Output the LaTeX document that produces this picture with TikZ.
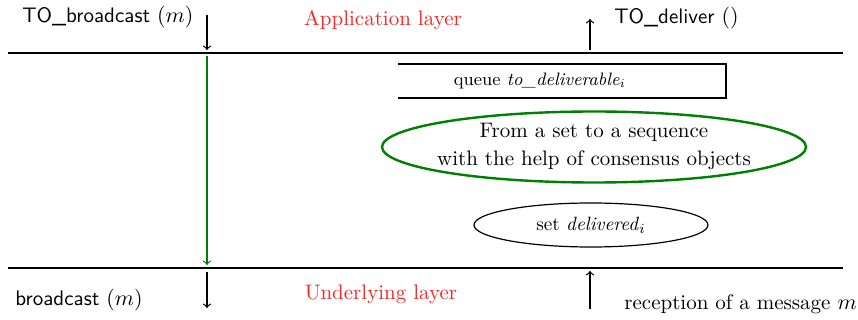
\documentclass[tikz,border=0pt]{standalone}
\usetikzlibrary{shapes.geometric}
\definecolor{lgreen}{RGB}{0,128,0}
\definecolor{lred}{RGB}{240,40,40}
\begin{document}
\begin{tikzpicture}[x=0.5pt,y=-0.5pt,
  font=\fontsize{10.5}{14}\selectfont,
  layer/.style={line width=1pt},
  arr/.style={->,semithick},
  sanslabel/.style={font=\fontsize{10.5}{14}\selectfont\sffamily,inner sep=0pt},
  layerlabel/.style={text=lred,inner sep=0pt},
  bigell/.style={ellipse,draw=lgreen,line width=1.2pt,minimum width=212pt,minimum height=35.5pt,inner xsep=-4.5pt,inner ysep=0pt,align=center},
  smallell/.style={ellipse,draw,semithick,minimum width=117pt,minimum height=22pt,inner sep=0pt,font=\fontsize{9.6}{12}\selectfont}]
\useasboundingbox (0,0) rectangle (858,320);
% layer lines
\coordinate (tl) at (8,53); \coordinate (tr) at (843,53);
\coordinate (bl) at (8,268); \coordinate (br) at (843,268);
\draw[layer] (tl) -- (tr);
\draw[layer] (bl) -- (br);
% labels
\node[sanslabel,anchor=west] (tob) at (22,17) {TO\_broadcast $(m)$};
\node[layerlabel] (app) at (383,20) {Application layer};
\node[sanslabel,anchor=west] (tod) at (614,18) {TO\_deliver $()$};
\node[sanslabel,anchor=west] (bc) at (15,300) {broadcast $(m)$};
\node[layerlabel] (und) at (381,294) {Underlying layer};
\node[inner sep=0pt,anchor=west] (rec) at (624,304) {reception of a message $m$};
% vertical arrows left
\coordinate (a1) at (207,15); \coordinate (a2) at (207,50);
\coordinate (g1) at (207,56); \coordinate (g2) at (207,265);
\coordinate (b1) at (207,272); \coordinate (b2) at (207,308);
\draw[arr] (a1) -- (a2);
\draw[arr,lgreen] (g1) -- (g2);
\draw[arr] (b1) -- (b2);
% vertical arrows right
\coordinate (c1) at (590,50); \coordinate (c2) at (590,19);
\coordinate (d1) at (590,309); \coordinate (d2) at (590,271);
\draw[arr] (c1) -- (c2);
\draw[arr] (d1) -- (d2);
% queue
\coordinate (q1) at (398,64); \coordinate (q2) at (726,64);
\coordinate (q3) at (726,98); \coordinate (q4) at (398,98);
\draw[semithick] (q1) -- (q2) -- (q3) -- (q4);
\node[font=\small,inner sep=0pt] (queue) at (540,81) {queue \textit{to\_deliverable}$_i$};
% ellipses
\node[bigell] (cons) at (594,147) {From a set to a sequence\\with the help of consensus objects};
\node[smallell] (deliv) at (591,225) {set \textit{delivered}$_i$};
\end{tikzpicture}
\end{document}
